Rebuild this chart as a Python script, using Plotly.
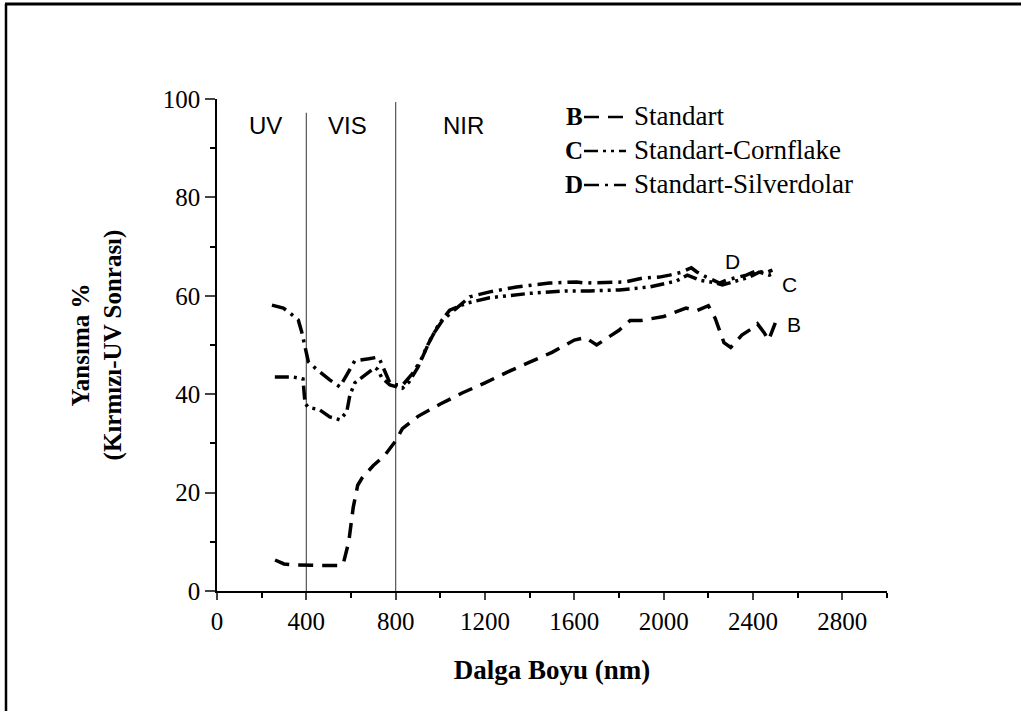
import plotly.graph_objects as go

# ---------------- data ----------------
b_x = [260, 300, 350, 400, 450, 500, 550, 565, 590, 610, 630, 650, 700, 750, 800, 830,
       870, 900, 1000, 1100, 1200, 1300, 1400, 1500, 1600, 1650, 1700, 1800, 1850, 1900,
       2000, 2100, 2150, 2200, 2230, 2270, 2300, 2350, 2400, 2420, 2450, 2470, 2500]
b_y = [6.3, 5.5, 5.3, 5.2, 5.2, 5.2, 5.2, 5.5, 10.0, 17.0, 21.5, 23.0, 25.5, 27.5, 30.5, 33.0,
       34.5, 35.5, 38.0, 40.3, 42.3, 44.5, 46.5, 48.5, 51.0, 51.5, 50.0, 53.0, 55.0, 55.0,
       55.8, 57.5, 57.0, 58.0, 55.5, 50.5, 49.5, 52.0, 53.5, 54.3, 52.5, 51.0, 54.5]

c_x = [259, 300, 340, 385, 394, 407, 460, 505, 550, 581, 595, 617, 670, 707, 720, 738,
       774, 800, 830, 860, 900, 939, 990, 1042, 1118, 1221, 1400, 1565, 1668, 1802, 1937,
       2057, 2106, 2160, 2236, 2263, 2308, 2384, 2428, 2473, 2496]
c_y = [43.5, 43.5, 43.5, 43.1, 38.2, 37.4, 36.8, 35.4, 34.8, 36.4, 39.8, 42.3, 44.2, 45.4, 45.0, 43.3,
       41.9, 41.5, 41.2, 42.5, 45.5, 49.6, 54.0, 57.1, 58.5, 59.6, 60.5, 61.0, 61.0, 61.2, 61.8,
       63.0, 64.2, 63.2, 62.6, 62.2, 62.8, 63.8, 64.8, 64.2, 64.6]

d_x = [246, 297, 327, 364, 379, 394, 409, 447, 505, 550, 595, 617, 680, 716, 729, 760,
       774, 805, 832, 877, 921, 961, 1011, 1073, 1132, 1221, 1341, 1489, 1610, 1646, 1758,
       1825, 1905, 1981, 2026, 2080, 2124, 2147, 2191, 2250, 2281, 2370, 2420, 2451, 2487]
d_y = [58.1, 57.5, 56.5, 55.1, 52.7, 49.7, 46.6, 45.0, 42.9, 41.5, 45.0, 46.8, 47.2, 47.5, 47.0, 43.5,
       42.3, 41.9, 41.9, 44.3, 47.6, 51.7, 55.1, 57.5, 59.8, 60.8, 61.8, 62.6, 62.8, 62.6, 62.8,
       62.8, 63.6, 63.8, 64.2, 64.8, 65.7, 64.9, 63.8, 62.6, 63.2, 64.2, 65.2, 64.6, 65.2]

series_names = ["Standart", "Standart-Cornflake", "Standart-Silverdolar"]
series_letters = ["B", "C", "D"]

region_bounds = [400, 800]
region_bound_tops = [97.2, 99.4]
region_labels = ["UV", "VIS", "NIR"]
region_label_x = [218, 583, 1105]
region_label_y = 94.7

curve_label_text = ["B", "C", "D"]
curve_label_x = [2585, 2563, 2308]
curve_label_y = [54.1, 62.2, 66.9]

x_tick_vals = [0, 400, 800, 1200, 1600, 2000, 2400, 2800]
y_tick_vals = [0, 20, 40, 60, 80, 100]

# ---------------- figure ----------------
W, H = 1021, 711
L, R, T, B = 217, 887, 99, 591

def px(xp):
    return (xp - L) / (R - L)

def py(yp):
    return (B - yp) / (B - T)

serif = "Liberation Serif"
sans = "Liberation Sans"

dashes = ["15px,9px", "14px,5px,3px,5px,3px,5px", "15px,6px,3px,6px"]

fig = go.Figure()
for name, xs, ys, dsh in zip(series_names, [b_x, c_x, d_x], [b_y, c_y, d_y], dashes):
    fig.add_trace(go.Scatter(x=xs, y=ys, mode="lines", name=name, showlegend=False,
                             line=dict(color="black", width=3.5, dash=dsh)))

for xb, top in zip(region_bounds, region_bound_tops):
    fig.add_shape(type="line", xref="x", yref="y", x0=xb, x1=xb, y0=0, y1=top,
                  line=dict(color="#555555", width=1.2), layer="below")

for t, xx in zip(region_labels, region_label_x):
    fig.add_annotation(x=xx, y=region_label_y, xref="x", yref="y", text=t, showarrow=False,
                       xanchor="center", yanchor="middle",
                       font=dict(family=sans, size=24, color="black"))

for t, xx, yy in zip(curve_label_text, curve_label_x, curve_label_y):
    fig.add_annotation(x=xx, y=yy, xref="x", yref="y", text=t, showarrow=False,
                       xanchor="center", yanchor="middle",
                       font=dict(family=sans, size=21, color="black"))

# hand-built legend: bold letter, line sample, label
legend_rows = [116, 150, 184]
for letter, name, dsh, row in zip(series_letters, series_names, dashes, legend_rows):
    fig.add_annotation(x=px(585), y=py(row), xref="paper", yref="paper",
                       text="<b>%s</b>" % letter, showarrow=False, xanchor="right", yanchor="middle",
                       font=dict(family=serif, size=25, color="black"))
    fig.add_shape(type="line", xref="paper", yref="paper", x0=px(584), x1=px(626),
                  y0=py(row + 1), y1=py(row + 1), line=dict(color="black", width=2.5, dash=dsh))
    fig.add_annotation(x=px(632), y=py(row), xref="paper", yref="paper",
                       text=name, showarrow=False, xanchor="left", yanchor="middle",
                       font=dict(family=serif, size=27, color="black"))

# outer frame (top and left edges)
fig.add_shape(type="line", xref="paper", yref="paper", x0=px(5), x1=px(1021), y0=py(4), y1=py(4),
              line=dict(color="black", width=3))
fig.add_shape(type="line", xref="paper", yref="paper", x0=px(6), x1=px(6), y0=py(4), y1=py(711),
              line=dict(color="black", width=2.5))

fig.update_layout(
    width=W, height=H,
    margin=dict(l=L, r=W - R, t=T, b=H - B),
    paper_bgcolor="white", plot_bgcolor="white",
    showlegend=False,
    font=dict(family=serif, color="black"),
)

fig.update_xaxes(
    range=[0, 3000], tickvals=x_tick_vals, ticks="outside", ticklen=7, tickwidth=1.5,
    showline=True, linecolor="black", linewidth=1.5, showgrid=False, zeroline=False,
    tickfont=dict(family=serif, size=25, color="black"),
    minor=dict(dtick=200, tick0=0, ticks="outside", ticklen=5, tickwidth=1.5, tickcolor="black"),
    title=dict(text="<b>Dalga Boyu (nm)</b>", font=dict(family=serif, size=27, color="black"), standoff=26),
)
fig.update_yaxes(
    range=[0, 100], tickvals=y_tick_vals, ticks="outside", ticklen=10, tickwidth=1.5,
    showline=True, linecolor="black", linewidth=1.5, showgrid=False, zeroline=False,
    tickfont=dict(family=serif, size=25, color="black"),
    minor=dict(dtick=10, tick0=0, ticks="outside", ticklen=5, tickwidth=1.5, tickcolor="black"),
    title=dict(text="<b>Yansıma %<br>(Kırmızı-UV Sonrası)</b>",
               font=dict(family=serif, size=25, color="black"), standoff=34),
)

fig.write_html("out.html", config={"displayModeBar": False},
               post_script="document.body.style.margin='0';document.body.style.overflow='hidden';")
